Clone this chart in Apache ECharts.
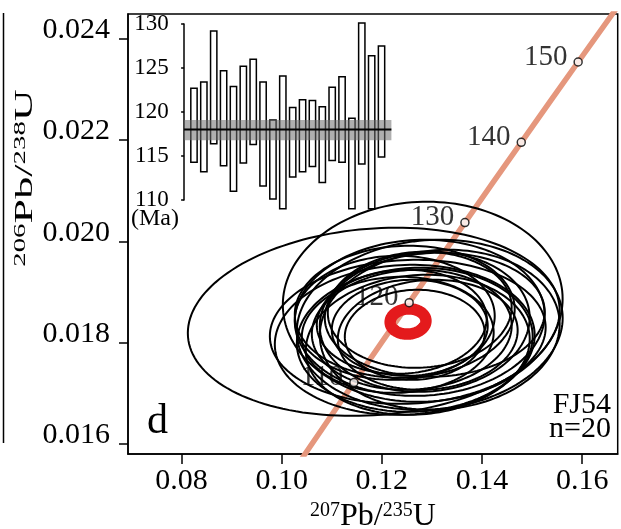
<!DOCTYPE html>
<html><head><meta charset="utf-8">
<script src="https://cdn.jsdelivr.net/npm/echarts@6/dist/echarts.min.js"></script>
<style>html,body{margin:0;padding:0;background:#fff}#c{width:621px;height:529px}</style>
</head><body><div id="c"></div>
<script>
// ---- main concordia diagram ----
const xTicks = [0.08, 0.10, 0.12, 0.14, 0.16];
const yTicks = [0.016, 0.018, 0.020, 0.022, 0.024];
// concordia curve points (age Ma, 207Pb/235U, 206Pb/238U)
const concAge = [100, 105, 110, 120, 130, 140, 150, 160];
const concX = [0.10350, 0.10895, 0.11442, 0.12545, 0.13659, 0.14784, 0.15920, 0.17067];
const concY = [0.015633, 0.016422, 0.017210, 0.018789, 0.020371, 0.021955, 0.023542, 0.025131];
// labelled age markers
const markAge = [110, 120, 130, 140, 150];
const markX = [0.11442, 0.12545, 0.13659, 0.14784, 0.15920];
const markY = [0.017210, 0.018789, 0.020371, 0.021955, 0.023542];
// analysis error ellipses: centre, half-widths, correlation
const ellCx = [0.11838, 0.12816, 0.12517, 0.12756, 0.12956, 0.12657, 0.12457, 0.12597, 0.12856, 0.12317,
               0.12717, 0.13056, 0.12397, 0.12557, 0.12916, 0.12258, 0.13156, 0.12756, 0.12457, 0.12657];
const ellCy = [0.018411, 0.018806, 0.018213, 0.018490, 0.018352, 0.018055, 0.018609, 0.018253, 0.018411, 0.018154,
               0.017957, 0.018549, 0.018411, 0.018292, 0.018154, 0.018490, 0.018253, 0.018648, 0.018055, 0.018154];
const ellSx = [0.03713, 0.02794, 0.02754, 0.02495, 0.02655, 0.02355, 0.02196, 0.01996, 0.02096, 0.01916,
               0.02236, 0.02196, 0.01697, 0.01557, 0.01796, 0.01996, 0.02395, 0.01836, 0.02595, 0.01397];
const ellSy = [0.001858, 0.001976, 0.001423, 0.001542, 0.001680, 0.001423, 0.001304, 0.001186, 0.001383, 0.001146,
               0.001383, 0.001225, 0.001028, 0.000949, 0.001087, 0.001225, 0.001581, 0.001146, 0.001482, 0.000889];
const ellRho = [0.12, 0.03, 0.06, 0.04, 0.08, 0.05, 0.04, 0.07, 0.06, 0.04,
                0.08, 0.05, 0.06, 0.04, 0.08, 0.03, 0.07, 0.05, 0.06, 0.04];
// concordia age ellipse
const meanCx = [0.12523], meanCy = [0.018417], meanSx = [0.00357], meanSy = [0.000249], meanRho = [0.05];

// ---- inset: 206Pb/238U ages ----
const insetTicks = [110, 115, 120, 125, 130];
const ageLow  = [114.3, 113.2, 116.4, 113.9, 111.0, 114.2, 116.3, 111.6, 110.1, 109.0,
                 112.6, 113.2, 113.8, 112.0, 114.5, 114.3, 109.0, 114.1, 109.0, 114.9];
const ageHigh = [122.7, 123.4, 129.2, 124.7, 122.9, 125.2, 126.0, 123.4, 119.1, 124.1,
                 120.5, 121.4, 121.3, 120.6, 122.8, 124.0, 119.3, 130.1, 126.4, 127.5];
const meanAge = 118.0, meanAgeLow = 116.8, meanAgeHigh = 119.1;

const FONT = 'Liberation Serif';

const concData = concX.map((x, i) => [x, concY[i]]);
const markData = markX.map((x, i) => [x, markY[i], markAge[i]]);
const ellData = ellCx.map((c, i) => [c, ellCy[i], ellSx[i], ellSy[i], ellRho[i]]);
const meanData = meanCx.map((c, i) => [c, meanCy[i], meanSx[i], meanSy[i], meanRho[i]]);
const barData = ageLow.map((lo, i) => [i + 1, lo, ageHigh[i]]);

function ellipseRenderer(color, lw) {
  return function (params, api) {
    const cx = api.value(0), cy = api.value(1), sx = api.value(2), sy = api.value(3), r = api.value(4);
    const k = Math.sqrt(1 - r * r);
    const pts = [];
    for (let i = 0; i < 160; i++) {
      const t = i / 160 * 2 * Math.PI;
      pts.push(api.coord([cx + sx * Math.cos(t), cy + sy * (r * Math.cos(t) + k * Math.sin(t))]));
    }
    return { type: 'polygon', shape: { points: pts }, style: { fill: 'none', stroke: color, lineWidth: lw } };
  };
}

const chart = echarts.init(document.getElementById('c'), null, { renderer: 'canvas' });
chart.setOption({
  animation: false,
  backgroundColor: '#fff',
  textStyle: { fontFamily: FONT, color: '#000' },
  grid: [
    { left: 128, right: 3.3, top: 14, bottom: 75, show: true, borderColor: '#000', borderWidth: 1.5,
      backgroundColor: 'transparent', containLabel: false, outerBoundsMode: 'none' },
    { left: 184.1, right: 229.6, top: 24, bottom: 329, containLabel: false, outerBoundsMode: 'none' }
  ],
  xAxis: [
    {
      gridIndex: 0, type: 'value', min: 0.0693, max: 0.1671,
      axisLine: { show: true, lineStyle: { color: '#000', width: 1.5 } },
      axisTick: { show: true, length: 10, lineStyle: { color: '#000', width: 1.5 }, customValues: xTicks },
      axisLabel: { show: true, customValues: xTicks, fontFamily: FONT, fontSize: 30, color: '#000', margin: 12,
        formatter: v => v.toFixed(2) },
      splitLine: { show: false },
      name: '{s|207}{m|Pb/}{s|235}{m|U}', nameLocation: 'middle', nameGap: 47,
      nameTextStyle: { fontFamily: FONT, color: '#000',
        rich: { s: { fontFamily: FONT, fontSize: 20, verticalAlign: 'top', lineHeight: 20 },
                m: { fontFamily: FONT, fontSize: 32, lineHeight: 32 } } }
    },
    { gridIndex: 1, type: 'value', min: 0, max: 21, show: false }
  ],
  yAxis: [
    {
      gridIndex: 0, type: 'value', min: 0.0158, max: 0.02449,
      axisLine: { show: true, lineStyle: { color: '#000', width: 1.5 } },
      axisTick: { show: true, length: 9, lineStyle: { color: '#000', width: 1.5 }, customValues: yTicks },
      axisLabel: { show: true, customValues: yTicks, fontFamily: FONT, fontSize: 30, color: '#000', margin: 18,
        verticalAlign: 'bottom', lineHeight: 17, formatter: v => v.toFixed(3) },
      splitLine: { show: false }
    },
    {
      gridIndex: 1, type: 'value', min: 110, max: 130, interval: 5, offset: 8.4,
      axisLine: { show: true, lineStyle: { color: '#000', width: 1.5 } },
      axisTick: { show: true, length: 3, lineStyle: { color: '#000', width: 1.5 } },
      axisLabel: { fontFamily: FONT, fontSize: 23, color: '#000', margin: 7 },
      splitLine: { show: false }
    }
  ],
  series: [
    { type: 'line', name: 'concordia', xAxisIndex: 0, yAxisIndex: 0, data: concData, smooth: true,
      showSymbol: false, clip: true, lineStyle: { color: '#E5977D', width: 5.5 }, z: 2, silent: true },
    { type: 'custom', name: 'analyses', xAxisIndex: 0, yAxisIndex: 0, data: ellData, clip: true,
      renderItem: ellipseRenderer('#000', 2), z: 3, silent: true },
    { type: 'custom', name: 'concordia age', xAxisIndex: 0, yAxisIndex: 0, data: meanData, clip: true,
      renderItem: ellipseRenderer('#E41A1C', 11.5), z: 4, silent: true },
    { type: 'scatter', name: 'ages', xAxisIndex: 0, yAxisIndex: 0, data: markData, symbol: 'circle', symbolSize: 8,
      itemStyle: { color: '#fff', borderColor: '#000', borderWidth: 1.5 }, z: 5, silent: true,
      label: { show: true, position: 'left', distance: 6, offset: [0, -5], fontFamily: FONT, fontSize: 29, color: '#000',
        formatter: p => String(p.value[2]) } },
    { type: 'custom', name: 'inset bars', xAxisIndex: 1, yAxisIndex: 1, data: barData, z: 6, silent: true,
      renderItem: function (params, api) {
        const i = api.value(0), lo = api.value(1), hi = api.value(2);
        const p1 = api.coord([i, hi]), p2 = api.coord([i, lo]);
        const w = api.size([1, 0])[0] * 0.64;
        return { type: 'rect', shape: { x: p1[0] - w / 2, y: p1[1], width: w, height: p2[1] - p1[1] },
          style: { fill: '#fff', stroke: '#000', lineWidth: 1.5 } };
      } },
    { type: 'custom', name: 'mean', xAxisIndex: 1, yAxisIndex: 1, data: [[0, 21, meanAgeLow, meanAgeHigh, meanAge]], z: 7, silent: true,
      renderItem: function (params, api) {
        const a = api.coord([api.value(0), api.value(3)]), b = api.coord([api.value(1), api.value(2)]);
        const m1 = api.coord([api.value(0), api.value(4)]), m2 = api.coord([api.value(1), api.value(4)]);
        return { type: 'group', children: [
          { type: 'rect', shape: { x: a[0], y: a[1], width: b[0] - a[0], height: b[1] - a[1] },
            style: { fill: 'rgba(110,110,110,0.55)' } },
          { type: 'line', shape: { x1: m1[0], y1: m1[1], x2: m2[0], y2: m2[1] }, style: { stroke: '#000', lineWidth: 2 } }
        ] };
      } }
  ],
  graphic: [
    { type: 'line', shape: { x1: 3.5, y1: 13, x2: 3.5, y2: 443 }, style: { stroke: '#000', lineWidth: 1.5 } },
    { type: 'text', x: 25, y: 178, rotation: Math.PI / 2, scaleX: 1.7,
      style: { text: '{s|206}{m|Pb/}{s|238}{m|U}', fill: '#000', align: 'center', verticalAlign: 'middle',
        textAlign: 'center', textVerticalAlign: 'middle',
        rich: { s: { fontFamily: FONT, fontSize: 17, verticalAlign: 'top', lineHeight: 17 },
                m: { fontFamily: FONT, fontSize: 26, lineHeight: 26 } } } },
    { type: 'text', x: 131, y: 219,
      style: { text: '(Ma)', font: '24px "Liberation Serif"', fill: '#000', textVerticalAlign: 'middle', verticalAlign: 'middle' } },
    { type: 'text', x: 147, y: 422,
      style: { text: 'd', font: '42px "Liberation Serif"', fill: '#000', textVerticalAlign: 'middle', verticalAlign: 'middle' } },
    { type: 'text', x: 611, y: 417,
      style: { text: 'FJ54\nn=20', font: '30px "Liberation Serif"', lineHeight: 24, fill: '#000', textAlign: 'right', align: 'right',
        textVerticalAlign: 'middle', verticalAlign: 'middle' } }
  ]
});
</script></body></html>
